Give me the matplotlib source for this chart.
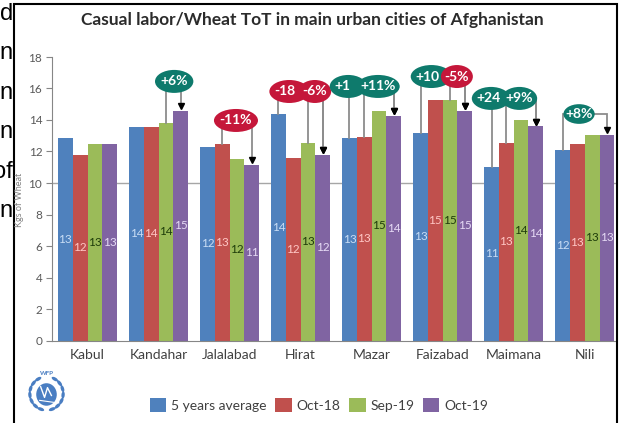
import matplotlib
matplotlib.use('Agg')
import matplotlib.pyplot as plt
from matplotlib.patches import Ellipse, Rectangle, Patch
import numpy as np

# data
cities = ['Kabul', 'Kandahar', 'Jalalabad', 'Hirat', 'Mazar', 'Faizabad', 'Maimana', 'Nili']
series = ['5 years average', 'Oct-18', 'Sep-19', 'Oct-19']
avg5 = [12.84, 13.57, 12.31, 14.38, 12.84, 13.2, 11.03, 12.11]
oct18 = [11.78, 13.57, 12.5, 11.57, 12.9, 15.29, 12.54, 12.5]
sep19 = [12.5, 13.83, 11.5, 12.56, 14.6, 15.29, 13.97, 13.07]
oct19 = [12.5, 14.59, 11.14, 11.78, 14.24, 14.57, 13.6, 13.07]

# change annotations: city index, compared series, text
ann_city = [1, 2, 3, 3, 4, 4, 5, 5, 6, 6, 7]
ann_from = [2, 1, 0, 2, 0, 1, 0, 2, 0, 1, 0]
ann_text = ['+6%', '-11%', '-18%', '-6%', '+12%', '+11%', '+10%', '-5%', '+24%', '+9%', '+8%']

# layout of the ovals (x centre, y centre, width) in axis units,
# and how many characters stay visible when the next oval covers one
ann_xy = [(1.22, 16.45, 0.54), (2.09, 13.97, 0.62), (2.84, 15.81, 0.56), (3.2, 15.81, 0.46),
          (3.67, 16.13, 0.52), (4.09, 16.13, 0.61), (4.84, 16.76, 0.58), (5.2, 16.76, 0.45),
          (5.68, 15.37, 0.54), (6.08, 15.37, 0.5), (6.92, 14.38, 0.44)]
ann_shown = [None, None, 3, None, 2, None, 3, None, 3, None, None]

colors = ['#4F81BD', '#C0504D', '#9BBB59', '#8064A2']
lab_colors = ['#C9DDF5', '#FFC7C5', '#1E3D0A', '#E6DAF5']
red_oval = '#C5173A'
teal_oval = '#0E7A6C'

plt.rcParams['font.family'] = ['Lato', 'DejaVu Sans']

fig = plt.figure(figsize=(6.21, 4.23), dpi=100)
W, H = 621.0, 423.0
ax = fig.add_axes([52 / W, 82.5 / H, (616 - 52) / W, (366 - 82.5) / H])

values = [avg5, oct18, sep19, oct19]
x = np.arange(len(cities))
bw = 0.208
offs = [-1.5 * bw, -0.5 * bw, 0.5 * bw, 1.5 * bw]

ax.axhline(10, color='#A6A6A6', lw=1.0, zorder=1)
for k in range(4):
    ax.bar(x + offs[k], values[k], bw, color=colors[k], zorder=2, label=series[k])
    for i, v in enumerate(values[k]):
        ax.text(x[i] + offs[k], v / 2, '%d' % int(v + 0.5), ha='center', va='center',
                fontsize=8.5, color=lab_colors[k], zorder=3)

# brackets with arrows to the Oct-19 bar
for n in range(len(ann_city)):
    i = ann_city[n]
    s = ann_from[n]
    cx, cy, w = ann_xy[n]
    xs = x[i] + offs[s]
    xp = x[i] + offs[3]
    vs = values[s][i]
    vp = values[3][i]
    ax.plot([xs, xs, xp, xp], [vs, cy, cy, vp + 0.35], color='#8C8C8C', lw=1.3,
            zorder=4 + 2 * n, clip_on=False, solid_joinstyle='miter')
    ax.plot([xp], [vp + 0.3], marker='v', color='black', markersize=5, zorder=4 + 2 * n,
            clip_on=False)

# ovals, later ones drawn over earlier ones
for n in range(len(ann_city)):
    cx, cy, w = ann_xy[n]
    col = red_oval if ann_text[n].startswith('-') else teal_oval
    h = 1.46 if n < 10 else 1.25
    ax.add_patch(Ellipse((cx, cy), w, h, facecolor=col, edgecolor='none',
                         zorder=30 + 2 * n, clip_on=False))
    if ann_shown[n] is None:
        ax.text(cx, cy, ann_text[n], ha='center', va='center', color='white', fontsize=10,
                fontweight='bold', zorder=31 + 2 * n)
    else:
        ax.text(cx - w / 2 + 0.07, cy, ann_text[n][:ann_shown[n]], ha='left', va='center',
                color='white', fontsize=10, fontweight='bold', zorder=31 + 2 * n)

ax.set_xlim(-0.5, 7.44)
ax.set_ylim(0, 18)
ax.set_yticks(range(0, 19, 2))
ax.set_xticks(x)
ax.set_xticklabels(cities)
ax.tick_params(axis='x', length=0, pad=6, labelsize=10, labelcolor='#404040')
ax.tick_params(axis='y', length=4, color='#868686', labelsize=8.5, labelcolor='#595959', pad=3)
for sp in ['top', 'right']:
    ax.spines[sp].set_visible(False)
ax.spines['left'].set_color('#868686')
ax.spines['bottom'].set_color('#868686')

fig.text(312 / W, 1 - 20 / H, 'Casual labor/Wheat ToT in main urban cities of Afghanistan',
         ha='center', va='center', fontsize=12.5, fontweight='bold', color='#2B2B2B')
fig.text(19 / W, 1 - 200 / H, 'Kgs of Wheat', rotation=90, ha='center', va='center',
         fontsize=6.5, color='#7F7F7F')

handles = [Patch(facecolor=c, edgecolor='none') for c in colors]
fig.legend(handles, series, loc='center', bbox_to_anchor=(319 / W, 1 - 405 / H), ncol=4,
           frameon=False, fontsize=10, handlelength=1.2, handleheight=1.2,
           handletextpad=0.35, columnspacing=0.6, labelcolor='#404040')

# frame of the screenshot
fig.patches.append(Rectangle((14 / W, -0.05), (617 - 14) / W, 1.05 - 4 / H,
                             transform=fig.transFigure, fill=False, edgecolor='black', lw=1.5))

# clipped text of the surrounding document
left_bits = ['d', 'n', 'n', 'n', 'of', 'n']
left_y = [14, 53, 93, 132, 172, 211]
for t, yy in zip(left_bits, left_y):
    fig.text(13 / W, 1 - yy / H, t, ha='right', va='center', fontsize=17,
             family='Liberation Sans', color='black')

# WFP emblem (rough)
lax = fig.add_axes([23 / W, 6 / H, 47 / W, 47 / H])
lax.set_xlim(-1.2, 1.2)
lax.set_ylim(-1.2, 1.2)
lax.set_aspect('equal')
lax.axis('off')
blue = '#4A7EC2'
for t in np.linspace(20, 150, 7):
    r = np.radians(t)
    lax.add_patch(Ellipse((0.85 * np.sin(r), -0.85 * np.cos(r)), 0.36, 0.17, angle=t,
                          facecolor=blue, edgecolor='none'))
    lax.add_patch(Ellipse((-0.85 * np.sin(r), -0.85 * np.cos(r)), 0.36, 0.17, angle=180 - t,
                          facecolor=blue, edgecolor='none'))
lax.add_patch(Ellipse((0, -0.05), 1.05, 1.15, facecolor=blue, edgecolor='none'))
lax.plot([-0.3, -0.1, 0.05, 0.25], [0.35, -0.2, 0.3, -0.1], color='white', lw=1.0)
lax.plot([-0.35, 0.35], [-0.35, -0.45], color='white', lw=0.8)
lax.text(0, 1.02, 'WFP', ha='center', va='center', fontsize=4.5, color=blue, fontweight='bold')

fig.savefig('out.png', dpi=100)
